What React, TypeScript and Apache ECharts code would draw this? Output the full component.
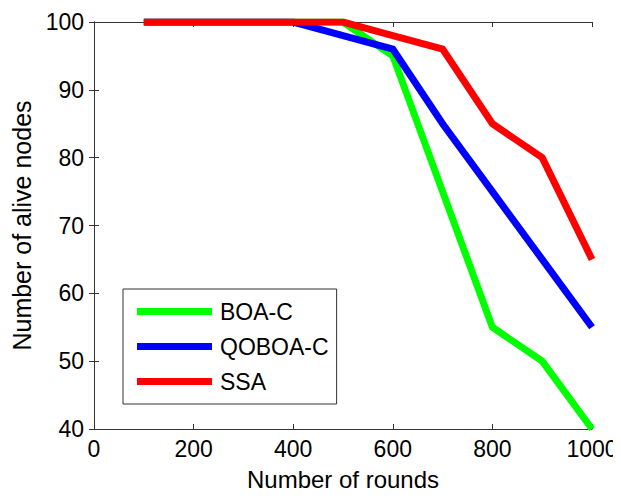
import React, { useEffect, useRef } from "react";
import * as echarts from "echarts";

const rounds = [100, 200, 300, 400, 500, 600, 700, 800, 900, 1000];
const boaC = [100, 100, 100, 100, 100, 95, 75, 55, 50, 40];
const qoboaC = [100, 100, 100, 100, 98, 96, 85, 75, 65, 55];
const ssa = [100, 100, 100, 100, 100, 98, 96, 85, 80, 65];
const seriesNames = ["BOA-C", "QOBOA-C", "SSA"];
const seriesColors = ["#00ff00", "#0000ff", "#ff0000"];

const FONT = "Liberation Sans, Arial, sans-serif";

export default function App() {
  const ref = useRef<HTMLDivElement>(null);
  useEffect(() => {
    if (!ref.current) return;
    const chart = echarts.init(ref.current, undefined, { renderer: "svg" });
    const axisLine = { show: true, lineStyle: { color: "#333", width: 1 } };
    const tick = { show: true, inside: true, length: 5, lineStyle: { color: "#333" } };
    const label = { color: "#000", fontSize: 23, fontFamily: FONT, formatter: (v: number) => String(v) };
    const data = [boaC, qoboaC, ssa];
    chart.setOption({
      animation: false,
      backgroundColor: "#fff",
      grid: { left: 94, right: 29, top: 22, bottom: 63, containLabel: false },
      xAxis: [
        {
          type: "value", min: 0, max: 1000, interval: 200,
          axisLine, axisTick: tick, splitLine: { show: false },
          axisLabel: { ...label, margin: 8 },
          name: "Number of rounds", nameLocation: "middle", nameGap: 38,
          nameTextStyle: { color: "#000", fontSize: 24, fontFamily: FONT },
        },
        {
          type: "value", position: "top", min: 0, max: 1000, interval: 200,
          axisLine, axisTick: tick, splitLine: { show: false }, axisLabel: { show: false },
        },
      ],
      yAxis: [
        {
          type: "value", min: 40, max: 100, interval: 10,
          axisLine, axisTick: tick, splitLine: { show: false },
          axisLabel: { ...label, margin: 10 },
          name: "Number of alive nodes", nameLocation: "middle", nameGap: 57,
          nameTextStyle: { color: "#000", fontSize: 25, fontFamily: FONT },
        },
        {
          type: "value", position: "right", min: 40, max: 100, interval: 10,
          axisLine, axisTick: tick, splitLine: { show: false }, axisLabel: { show: false },
        },
      ],
      legend: {
        orient: "vertical",
        left: 123, top: 289,
        padding: [10, 8, 10, 14],
        borderColor: "#333", borderWidth: 1,
        backgroundColor: "#fff",
        itemWidth: 75, itemHeight: 7, itemGap: 10,
        icon: "rect",
        textStyle: { color: "#000", fontSize: 23, fontFamily: FONT, lineHeight: 25, padding: [0, 0, 0, 3] },
        data: seriesNames,
      },
      series: seriesNames.map((name, i) => ({
        name, type: "line",
        data: rounds.map((r, j) => [r, data[i][j]]),
        showSymbol: false, symbol: "none",
        lineStyle: { color: seriesColors[i], width: 7, join: "miter" },
        itemStyle: { color: seriesColors[i] },
        z: 2 + i,
      })),
    });
    return () => chart.dispose();
  }, []);
  return <div ref={ref} style={{ width: 621, height: 496, marginLeft: -8, marginTop: -8 }} />;
}
